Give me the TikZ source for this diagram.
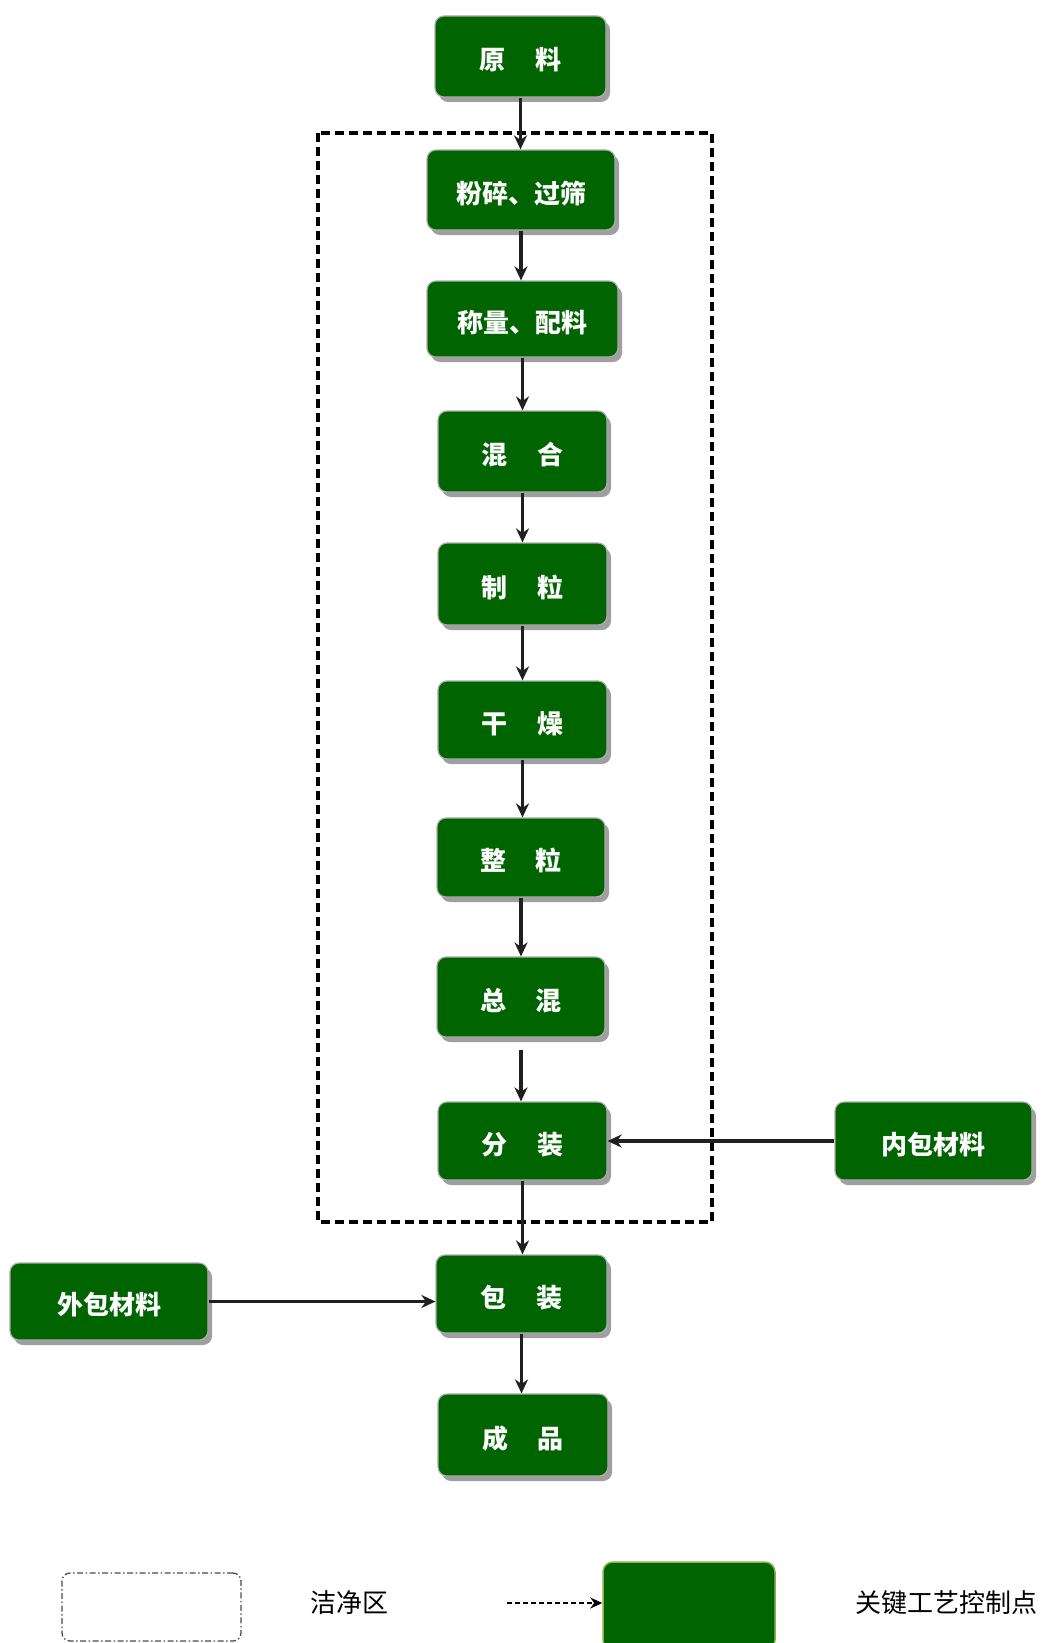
\documentclass[tikz,border=0pt]{standalone}
\usepackage{fontspec}
\setmainfont{Noto Sans CJK SC}
\usetikzlibrary{arrows.meta,shadows}
\definecolor{boxgreen}{HTML}{006400}
\definecolor{legborder}{HTML}{8DB048}
\newcommand{\lowtxt}[1]{\raisebox{-13pt}[0pt][0pt]{#1}}
\tikzset{
 proc/.style={draw=gray!65, line width=1.2pt, fill=boxgreen, rounded corners=9pt,
   text=white, font=\fontsize{26}{30}\selectfont\bfseries,
   drop shadow={shadow xshift=4pt, shadow yshift=-5pt, fill=gray!75, opacity=1},
   inner sep=0pt, minimum width=170pt, minimum height=80pt},
 flow/.style={line width=3.2pt, draw=black!88, -{Stealth[length=14pt,width=13pt]}},
 cleanzone/.style={line width=4pt, dash pattern=on 9pt off 5pt},
 legclean/.style={draw=black!70, line width=1.3pt, rounded corners=8pt,
   dash pattern=on 6pt off 2.5pt on 1.5pt off 2.5pt, inner sep=0pt},
 legkey/.style={draw=legborder, line width=1.5pt, fill=boxgreen, rounded corners=10pt, inner sep=0pt},
 legtext/.style={font=\fontsize{26}{30}\selectfont, text=black},
 legarrow/.style={line width=2pt, dash pattern=on 5pt off 3pt, -{Stealth[length=12pt,width=11pt]}},
}
\begin{document}
\begin{tikzpicture}[x=1pt,y=-1pt]
\useasboundingbox (0,0) rectangle (1046,1643);
% clean zone frame
\draw[cleanzone] (318,133) rectangle (712,1222);
% process nodes
\node[proc, minimum width=171pt, minimum height=81pt] (yl) at (520.5,56.5) {\lowtxt{原\hspace{1.15em}料}};
\node[proc, minimum width=188pt, minimum height=80pt] (fs) at (521,190) {\lowtxt{粉碎、过筛}};
\node[proc, minimum width=191pt, minimum height=76pt] (cl) at (522.5,319) {\lowtxt{称量、配料}};
\node[proc, minimum width=169pt, minimum height=81pt] (hh) at (522.5,451.5) {\lowtxt{混\hspace{1.15em}合}};
\node[proc, minimum width=169pt, minimum height=82pt] (zl) at (522.5,584) {\lowtxt{制\hspace{1.15em}粒}};
\node[proc, minimum width=169pt, minimum height=78pt] (gz) at (522.5,720) {\lowtxt{干\hspace{1.15em}燥}};
\node[proc, minimum width=168pt, minimum height=79pt] (zhl) at (521,857.5) {\lowtxt{整\hspace{1.15em}粒}};
\node[proc, minimum width=168pt, minimum height=80pt] (zh) at (521,997) {\lowtxt{总\hspace{1.15em}混}};
\node[proc, minimum width=169pt, minimum height=78pt] (fz) at (522.5,1141) {\lowtxt{分\hspace{1.15em}装}};
\node[proc, minimum width=197pt, minimum height=78pt] (nb) at (933.5,1141) {\lowtxt{内包材料}};
\node[proc, minimum width=171pt, minimum height=78pt] (bz) at (521.5,1294) {\lowtxt{包\hspace{1.15em}装}};
\node[proc, minimum width=198pt, minimum height=77pt] (wb) at (109,1301.5) {\lowtxt{外包材料}};
\node[proc, minimum width=170pt, minimum height=82pt] (cp) at (523,1435) {\lowtxt{成\hspace{1.15em}品}};
% connectors (vertical)
\draw[flow] (yl.south) -- (yl.south |- fs.north);
\draw[flow] (fs.south) -- (fs.south |- cl.north);
\draw[flow] (cl.south) -- (cl.south |- hh.north);
\draw[flow] (hh.south) -- (hh.south |- zl.north);
\draw[flow] (zl.south) -- (zl.south |- gz.north);
\draw[flow] (gz.south) -- (gz.south |- zhl.north);
\draw[flow] (zhl.south) -- (zhl.south |- zh.north);
\draw[flow, shorten <=12pt] (zh.south) -- (zh.south |- fz.north);
\draw[flow] (fz.south) -- (fz.south |- bz.north);
\draw[flow] (bz.south) -- (bz.south |- cp.north);
% connectors (horizontal)
\draw[flow] (nb.west) -- (fz.east);
\draw[flow] (wb.east) -- (wb.east -| bz.west);
% legend
\node[legclean, minimum width=179pt, minimum height=68pt] (lg1) at (151.5,1607) {};
\node[legtext] (lt1) at (349,1603) {洁净区};
\node[legkey, minimum width=172pt, minimum height=88pt] (lg2) at (689,1606) {};
\coordinate (la) at (507,1603);
\draw[legarrow] (la) -- (la -| lg2.west);
\node[legtext] (lt2) at (946,1603) {关键工艺控制点};
\end{tikzpicture}
\end{document}
